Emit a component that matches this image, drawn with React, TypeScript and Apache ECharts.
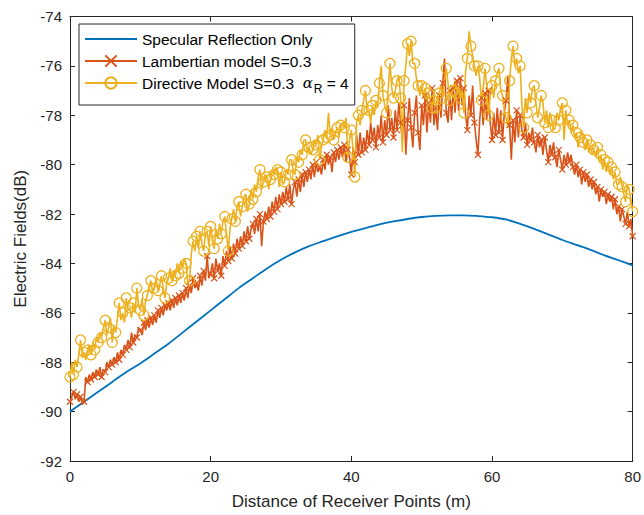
import React, { useEffect, useRef } from "react";
import * as echarts from "echarts";

// sample spacing (m)
const X_STEP = 0.25;
const SPEC_STEP = 2;

// Specular Reflection Only (every 2 m, 0..80)
const specular = [
  -90.0, -89.6, -89.2, -88.8, -88.4, -88.05, -87.65, -87.25, -86.8, -86.35,
  -85.9, -85.45, -85.0, -84.6, -84.2, -83.85, -83.55, -83.3, -83.1, -82.9,
  -82.72, -82.57, -82.42, -82.3, -82.2, -82.12, -82.07, -82.05, -82.05, -82.08,
  -82.13, -82.22, -82.4, -82.6, -82.82, -83.05, -83.25, -83.45, -83.67, -83.87,
  -84.08,
];

// Lambertian model S=0.3 (every 0.25 m, 0..80)
const lambertian = [
  -89.6, -89.4, -89.2, -89.5, -89.3, -89.6, -89.4, -89.7,
  -89.6, -88.6, -88.8, -88.5, -88.7, -88.4, -88.6, -88.3,
  -88.5, -88.2, -88.6, -88.3, -88.4, -88.0, -88.2, -87.9,
  -88.1, -87.8, -88.0, -87.6, -87.9, -87.5, -87.7, -87.3,
  -87.5, -87.1, -87.4, -86.8, -87.2, -86.9, -87.0, -86.6,
  -86.7, -86.9, -86.4, -86.7, -86.3, -86.6, -86.2, -86.5,
  -86.1, -86.4, -85.9, -86.2, -85.8, -86.1, -85.7, -85.9,
  -85.6, -85.9, -85.5, -85.8, -85.4, -85.7, -85.3, -85.6,
  -85.2, -85.5, -85.0, -85.4, -84.9, -85.2, -84.6, -85.0,
  -84.8, -85.1, -84.5, -84.9, -84.3, -84.7, -83.7, -84.6,
  -84.4, -84.0, -84.6, -83.8, -84.3, -84.0, -84.5, -83.7,
  -84.1, -83.5, -83.9, -83.3, -83.8, -83.2, -83.6, -83.0,
  -83.4, -82.9, -83.3, -82.7, -83.1, -82.5, -83.0, -82.6,
  -82.4, -82.8, -82.2, -82.7, -82.0, -83.3, -82.3, -81.9,
  -82.2, -81.7, -82.1, -81.5, -81.9, -81.3, -81.8, -81.2,
  -81.6, -81.1, -81.5, -80.9, -81.4, -80.8, -81.6, -81.0,
  -80.7, -81.3, -80.6, -81.1, -80.4, -80.9, -80.3, -80.7,
  -80.2, -80.6, -80.0, -80.5, -79.9, -80.3, -80.1, -80.4,
  -79.8, -80.2, -79.6, -80.0, -79.7, -80.3, -79.5, -79.9,
  -79.4, -79.8, -79.3, -79.7, -79.2, -79.9, -79.4, -79.7,
  -80.4, -79.3, -79.9, -78.8, -79.6, -78.7, -79.5, -78.9,
  -79.4, -78.6, -79.2, -78.3, -79.0, -78.5, -79.3, -78.4,
  -78.9, -78.0, -79.1, -78.2, -78.8, -77.6, -78.6, -78.1,
  -78.9, -77.8, -78.6, -77.5, -78.3, -79.0, -77.6, -79.6,
  -78.2, -77.3, -78.5, -79.3, -77.9, -77.2, -78.7, -79.4,
  -77.6, -78.4, -77.2, -78.7, -77.5, -78.3, -76.9, -78.4,
  -77.7, -78.6, -77.2, -78.1, -76.7, -75.7, -77.9, -78.3,
  -77.0, -78.2, -76.9, -77.9, -76.6, -77.8, -76.5, -77.6,
  -76.9, -78.0, -78.6, -77.2, -78.0, -76.8, -78.3, -79.0,
  -79.6, -78.2, -77.3, -78.4, -77.1, -78.2, -77.0, -78.3,
  -79.0, -77.9, -78.8, -77.7, -78.7, -77.8, -79.0, -77.9,
  -77.4, -76.4, -78.4, -79.8, -78.2, -79.1, -77.8, -78.9,
  -78.0, -78.6, -78.9, -78.3, -79.2, -78.7, -79.0, -78.5,
  -79.1, -79.5, -78.8, -79.3, -79.0, -79.6, -78.9, -79.4,
  -79.9, -79.2, -79.6, -79.1, -79.7, -80.1, -79.4, -79.8,
  -80.2, -79.6, -80.0, -79.5, -79.9, -79.6, -80.1, -80.4,
  -80.0, -80.5, -80.2, -80.8, -80.3, -80.7, -80.4, -80.9,
  -80.6, -81.0, -80.7, -81.2, -80.9, -81.5, -81.0, -81.3,
  -81.1, -81.6, -81.2, -81.5, -81.3, -81.8, -81.4, -82.0,
  -81.7, -82.3, -81.8, -82.1, -82.4, -81.9, -82.5, -82.2, -82.9,
];

// Directive Model S=0.3, alpha_R = 4 (every 0.25 m, 0..80)
const directive = [
  -88.6, -88.0, -88.5, -87.9, -88.2, -87.7, -87.1, -87.8,
  -87.6, -87.9, -87.5, -87.3, -87.7, -87.2, -87.5, -87.0,
  -87.2, -86.8, -87.0, -86.6, -86.3, -86.9, -86.6, -86.2,
  -87.2, -86.5, -86.8, -86.2, -85.6, -86.3, -86.0, -86.4,
  -85.4, -85.9, -85.8, -86.2, -85.6, -86.0, -85.0, -85.7,
  -85.9, -85.4, -86.1, -85.5, -85.3, -84.9, -84.7, -85.2,
  -85.0, -84.6, -85.1, -84.9, -84.5, -85.0, -85.4, -84.8,
  -84.6, -84.2, -84.7, -84.3, -84.5, -84.0, -84.4, -83.9,
  -84.2, -83.8, -84.0, -84.8, -84.7, -83.6, -83.1, -83.5,
  -82.9, -83.4, -82.7, -83.2, -83.5, -82.8, -82.7, -83.3,
  -82.5, -83.1, -83.4, -82.6, -83.0, -82.4, -82.8, -82.3,
  -82.1, -82.8, -83.5, -82.6, -82.2, -81.8, -82.3, -81.7,
  -81.5, -82.1, -81.7, -81.3, -81.2, -81.9, -81.6, -81.0,
  -81.4, -80.8, -81.1, -80.5, -80.2, -81.0, -80.7, -80.4,
  -80.5, -81.0, -80.6, -80.2, -80.4, -80.1, -80.2, -80.9,
  -80.3, -80.8, -80.7, -80.2, -80.4, -79.8, -79.8, -80.3,
  -80.4, -79.7, -79.9, -79.4, -79.6, -79.0, -79.0, -79.5,
  -79.3, -79.6, -79.4, -79.0, -79.2, -78.8, -79.8, -79.3,
  -79.0, -78.6, -78.9, -77.9, -78.8, -78.5, -79.0, -78.7,
  -78.5, -78.9, -78.4, -78.3, -78.5, -78.1, -79.7, -79.0,
  -78.6, -79.4, -80.5, -78.3, -78.0, -78.4, -77.8, -77.4,
  -77.0, -77.9, -77.8, -78.3, -77.6, -78.0, -77.4, -77.7,
  -76.7, -76.0, -77.2, -77.6, -77.9, -76.9, -75.9, -76.9,
  -77.3, -77.0, -76.6, -76.4, -77.3, -79.5, -76.6, -76.0,
  -75.1, -75.6, -75.0, -75.9, -75.9, -76.5, -76.8, -77.2,
  -76.8, -77.3, -76.9, -77.5, -77.1, -77.4, -77.7, -77.2,
  -77.7, -77.3, -77.1, -76.8, -77.3, -76.6, -76.1, -76.7,
  -77.4, -76.9, -77.0, -76.6, -77.1, -76.8, -77.3, -77.0,
  -77.9, -76.2, -75.7, -74.6, -75.2, -75.6, -76.0, -76.4,
  -76.0, -76.5, -77.4, -76.9, -76.1, -76.8, -78.0, -77.2,
  -76.8, -77.3, -76.6, -76.3, -76.1, -77.0, -77.2, -77.8,
  -78.1, -78.5, -76.6, -75.7, -75.2, -76.0, -75.7, -76.3,
  -76.0, -77.6, -78.5, -77.3, -77.9, -77.1, -77.5, -76.9,
  -76.8, -77.5, -78.1, -77.7, -77.2, -77.5, -78.3, -77.8,
  -78.5, -77.9, -78.2, -78.6, -78.5, -77.9, -78.2, -77.7,
  -77.5, -79.0, -77.8, -78.4, -78.2, -78.7, -78.4, -78.9,
  -78.7, -79.3, -78.9, -78.6, -79.1, -79.4, -79.0, -79.5,
  -79.2, -79.6, -79.4, -79.7, -79.3, -79.9, -79.6, -80.2,
  -79.8, -80.3, -79.9, -80.4, -80.1, -80.6, -80.3, -80.8,
  -80.8, -80.5, -80.9, -81.2, -81.5, -80.8, -81.0, -81.4, -81.9,
];

const SERIES_NAMES = [
  "Specular Reflection Only",
  "Lambertian model S=0.3",
  "Directive Model S=0.3",
];

const X_MIN = 0;
const X_MAX = 80;
const X_INTERVAL = 20;
const Y_MIN = -92;
const Y_MAX = -74;
const Y_INTERVAL = 2;

const X_TITLE = "Distance of Receiver Points (m)";
const Y_TITLE = "Electric Fields(dB)";

const BLUE = "#0072BD";
const ORANGE = "#D95319";
const YELLOW = "#EDB120";
const AXIS = "#262626";
const FONT = "'Liberation Sans', Arial, Helvetica, sans-serif";

function buildData(vals: number[], step: number, markerEvery: number) {
  return vals.map((v, i) =>
    i % markerEvery === 0
      ? { value: [i * step, v] }
      : { value: [i * step, v], symbol: "none" }
  );
}

export default function App() {
  const ref = useRef<HTMLDivElement>(null);

  useEffect(() => {
    if (!ref.current) return;
    const chart = echarts.init(ref.current, undefined, { renderer: "svg" });

    const axisLine = { show: true, onZero: false, lineStyle: { color: AXIS, width: 1 } };
    const axisTick = { show: true, inside: true, length: 5, lineStyle: { color: AXIS, width: 1 } };

    const option: any = {
      animation: false,
      backgroundColor: "#ffffff",
      textStyle: { fontFamily: FONT },
      grid: { left: 70, right: 11, top: 16.5, bottom: 53.5, containLabel: false },
      legend: {
        data: SERIES_NAMES,
        orient: "vertical",
        left: 79,
        top: 24,
        backgroundColor: "#ffffff",
        borderColor: AXIS,
        borderWidth: 1,
        borderRadius: 0,
        padding: [7, 6, 10, 5],
        itemWidth: 52,
        itemHeight: 14,
        itemGap: 6,
        textStyle: {
          fontFamily: FONT,
          fontSize: 15.5,
          color: "#000000",
          rich: {
            a: { fontFamily: "'DejaVu Serif', serif", fontStyle: "italic", fontSize: 15, color: "#000" },
            s: { fontFamily: FONT, fontSize: 12, color: "#000", padding: [12, 0, 0, 1] },
            t: { fontFamily: FONT, fontSize: 15.5, color: "#000" },
          },
        },
        formatter: (name: string) =>
          name === SERIES_NAMES[2] ? `{t|${name}  }{a|α}{s|R}{t| = 4}` : name,
      },
      xAxis: [
        {
          type: "value",
          min: X_MIN,
          max: X_MAX,
          interval: X_INTERVAL,
          position: "bottom",
          axisLine,
          axisTick,
          splitLine: { show: false },
          axisLabel: { color: AXIS, fontSize: 15, margin: 8, fontFamily: FONT },
          name: X_TITLE,
          nameLocation: "middle",
          nameGap: 32,
          nameTextStyle: { color: AXIS, fontSize: 17, fontFamily: FONT },
        },
        {
          type: "value",
          min: X_MIN,
          max: X_MAX,
          interval: X_INTERVAL,
          position: "top",
          axisLine,
          axisTick,
          splitLine: { show: false },
          axisLabel: { show: false },
        },
      ],
      yAxis: [
        {
          type: "value",
          min: Y_MIN,
          max: Y_MAX,
          interval: Y_INTERVAL,
          position: "left",
          axisLine,
          axisTick,
          splitLine: { show: false },
          axisLabel: { color: AXIS, fontSize: 15, margin: 8, fontFamily: FONT },
          name: Y_TITLE,
          nameLocation: "middle",
          nameGap: 41,
          nameTextStyle: { color: AXIS, fontSize: 17, fontFamily: FONT },
        },
        {
          type: "value",
          min: Y_MIN,
          max: Y_MAX,
          interval: Y_INTERVAL,
          position: "right",
          axisLine,
          axisTick,
          splitLine: { show: false },
          axisLabel: { show: false },
        },
      ],
      series: [
        {
          name: SERIES_NAMES[0],
          type: "line",
          xAxisIndex: 0,
          yAxisIndex: 0,
          data: specular.map((v, i) => [i * SPEC_STEP, v]),
          smooth: 0.3,
          symbol: "none",
          lineStyle: { color: BLUE, width: 1.8 },
          itemStyle: { color: "rgba(0,0,0,0)", borderWidth: 0 },
        },
        {
          name: SERIES_NAMES[1],
          type: "line",
          xAxisIndex: 0,
          yAxisIndex: 0,
          data: buildData(lambertian, X_STEP, 2),
          symbol: "path://M0,0L10,10M10,0L0,10",
          symbolSize: 6,
          showAllSymbol: true,
          lineStyle: { color: ORANGE, width: 1.6 },
          itemStyle: { color: ORANGE, borderColor: ORANGE, borderWidth: 1.2 },
        },
        {
          name: SERIES_NAMES[2],
          type: "line",
          xAxisIndex: 0,
          yAxisIndex: 0,
          data: buildData(directive, X_STEP, 2),
          symbol: "circle",
          symbolSize: 10,
          showAllSymbol: true,
          lineStyle: { color: YELLOW, width: 1.6 },
          itemStyle: { color: "rgba(255,255,255,0)", borderColor: YELLOW, borderWidth: 1.3 },
        },
      ],
    };

    chart.setOption(option);
    return () => chart.dispose();
  }, []);

  return (
    <div
      ref={ref}
      style={{ position: "absolute", left: 0, top: 0, width: 644, height: 515, background: "#fff" }}
    />
  );
}
